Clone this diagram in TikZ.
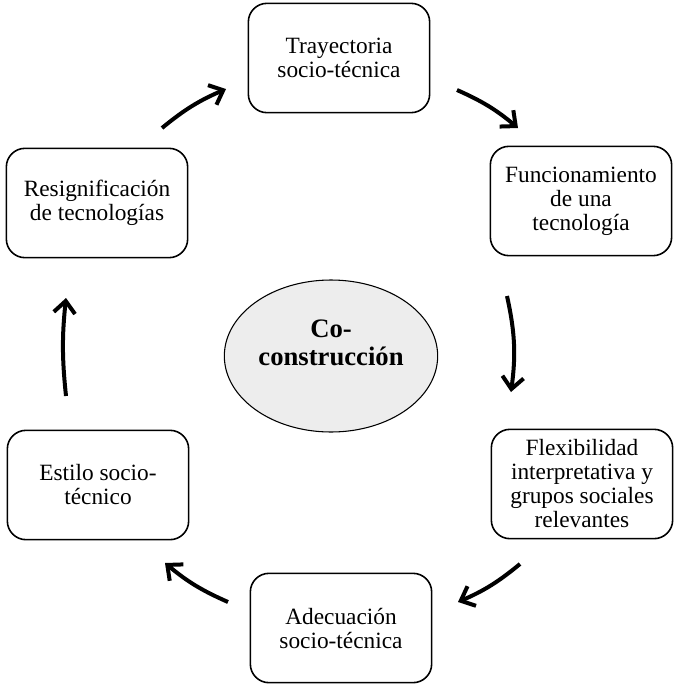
\documentclass[tikz,border=0pt]{standalone}
\usepackage{fontspec}
\setmainfont{Liberation Serif}
\usetikzlibrary{shapes.geometric,arrows.meta}
\begin{document}
\begin{tikzpicture}[x=0.75pt,y=-0.75pt,
  box/.style={draw,line width=1.2pt,rounded corners=14pt,minimum width=136pt,minimum height=82pt,align=center,font=\fontsize{17.5}{18}\selectfont,inner sep=1pt},
  flow/.style={line width=3pt,-{Straight Barb[length=9pt,width=16pt,line width=3pt]}}]
\useasboundingbox (0,0) rectangle (677,690);
\node[box] (tray) at (339,58) {Trayectoria\\socio-técnica};
\node[box] (func) at (581,201) {Funcionamiento\\de una\\tecnología};
\node[box] (flex) at (582,484) {Flexibilidad\\interpretativa y\\grupos sociales\\relevantes};
\node[box] (adec) at (341,628) {Adecuación\\socio-técnica};
\node[box] (esti) at (98,485) {Estilo socio-\\técnico};
\node[box] (resi) at (97,203) {Resignificación\\de tecnologías};
\node[ellipse,draw,line width=0.8pt,fill=black!7,minimum width=160pt,minimum height=114pt,
  label={[align=center,font=\fontsize{20}{21}\selectfont\bfseries,yshift=10pt]center:Co-\\construcción}] (co) at (331,356) {};
\coordinate (a1s) at (162,128); \coordinate (a1e) at (226,89);
\coordinate (a2s) at (457,90); \coordinate (a2e) at (518,128);
\coordinate (a3s) at (507,296); \coordinate (a3e) at (511,392);
\coordinate (a4s) at (520,564); \coordinate (a4e) at (458,602);
\coordinate (a5s) at (228,602); \coordinate (a5e) at (165,563);
\coordinate (a6s) at (66,396); \coordinate (a6e) at (66,298);
\draw[flow] (a1s) to[bend left=8] (a1e);
\draw[flow] (a2s) to[bend left=8] (a2e);
\draw[flow] (a3s) to[bend left=10] (a3e);
\draw[flow] (a4s) to[bend left=8] (a4e);
\draw[flow] (a5s) to[bend left=8] (a5e);
\draw[flow] (a6s) to[bend left=6] (a6e);
\end{tikzpicture}
\end{document}
